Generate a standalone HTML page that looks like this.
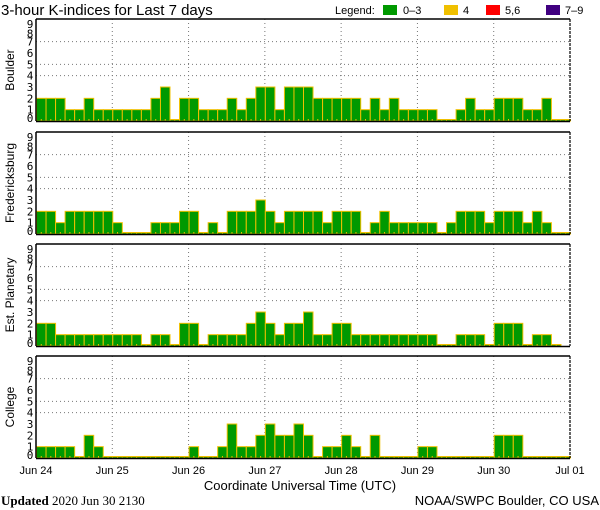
<!DOCTYPE html>
<html><head><meta charset="utf-8"><style>
body{margin:0;background:#fff;}
svg{display:block;font-family:"DejaVu Sans Mono","Liberation Mono",monospace;}
</style></head><body>
<svg id="chart" width="600" height="510" viewBox="0 0 600 510" xmlns="http://www.w3.org/2000/svg">
<text x="1" y="15" font-size="15" font-family="Liberation Sans, sans-serif">3-hour K-indices for Last 7 days</text>
<g font-size="11" font-family="Liberation Sans, sans-serif">
<text x="335" y="14">Legend:</text>
<rect x="383" y="5" width="14" height="10" fill="#009900"/>
<text x="403" y="14">0–3</text>
<rect x="444" y="5" width="14" height="10" fill="#f0c000"/>
<text x="463" y="14">4</text>
<rect x="486" y="5" width="14" height="10" fill="#ff0000"/>
<text x="505" y="14">5,6</text>
<rect x="546" y="5" width="14" height="10" fill="#400080"/>
<text x="565" y="14">7–9</text>
</g>
<g id="panels"></g>
<g font-size="11" font-family="Liberation Sans, sans-serif" id="xlabels"></g>
<text x="300" y="490" text-anchor="middle" font-size="13" font-family="Liberation Sans, sans-serif">Coordinate Universal Time (UTC)</text>
<text x="1" y="505" font-size="13" font-family="Liberation Serif, serif"><tspan font-weight="bold">Updated</tspan> 2020 Jun 30 2130</text>
<text x="599" y="505" text-anchor="end" font-size="13" font-family="Liberation Sans, sans-serif">NOAA/SWPC Boulder, CO USA</text>
</svg>
<script>
const stations = ["Boulder","Fredericksburg","Est. Planetary","College"];
const boulder = [2,2,2,1,1,2,1,1,1,1,1,1,2,3,0,2,2,1,1,1,2,1,2,3,3,1,3,3,3,2,2,2,2,2,1,2,1,2,1,1,1,1,0,0,1,2,1,1,2,2,2,1,1,2,0,0];
const fredericksburg = [2,2,1,2,2,2,2,2,1,0,0,0,1,1,1,2,2,0,1,0,2,2,2,3,2,1,2,2,2,2,1,2,2,2,0,1,2,1,1,1,1,1,0,1,2,2,2,1,2,2,2,1,2,1,0,0];
const planetary = [2,2,1,1,1,1,1,1,1,1,1,0,1,1,0,2,2,0,1,1,1,1,2,3,2,1,2,2,3,1,1,2,2,1,1,1,1,1,1,1,1,1,0,0,1,1,1,0,2,2,2,0,1,1,0,null];
const college = [1,1,1,1,0,2,1,0,0,0,0,0,0,0,0,0,1,0,0,1,3,1,1,2,3,2,2,3,2,0,1,1,2,1,0,2,0,0,0,0,1,1,0,0,0,0,0,0,2,2,2,0,0,0,0,0];
const seriesList = [boulder,fredericksburg,planetary,college];
const dayLabels = ["Jun 24","Jun 25","Jun 26","Jun 27","Jun 28","Jun 29","Jun 30","Jul 01"];
const yTicks = [0,1,2,3,4,5,6,7,8,9];

const NS="http://www.w3.org/2000/svg";
const X0=36, X1=570, N=56, PH=102, panelTops=[19,132,244,356];
const bw=(X1-X0)/N;
const xScale=i=>X0+i*bw;
function yScale(top,v){return top+PH-v*(PH/9);}
function mk(tag,attrs,parent){const e=document.createElementNS(NS,tag);for(const k in attrs)e.setAttribute(k,attrs[k]);parent.appendChild(e);return e;}
function color(v){return v>=7?"#400080":v>=5?"#ff0000":v>=4?"#f0c000":"#009900";}
const root=document.getElementById("panels");
stations.forEach((name,p)=>{
  const top=panelTops[p], data=seriesList[p];
  const g=mk("g",{},root);
  
  
  [4,5,7].forEach(v=>{
    const l=mk("line",{x1:X0,x2:X1,y1:yScale(top,v),y2:yScale(top,v),stroke:"#777","stroke-dasharray":"1,3"},g);
    
    
  });
  for(let d=1;d<7;d++){
    const x=xScale(d*8);
    const l=mk("line",{x1:x,x2:x,y1:top,y2:top+PH,stroke:"#777","stroke-dasharray":"1,3"},g);
    
    
  }
  data.forEach((v,i)=>{
    if(v===null)return;
    const y=yScale(top,v), h=Math.max(1.5,top+PH-y);
    const r=mk("rect",{x:xScale(i)+0.5,y:top+PH-h,width:bw,height:h,fill:color(v),stroke:"#f0c000","stroke-width":1},g);
    
    
    const t=mk("rect",{x:xScale(i)+bw/2,y:top+PH-2,width:1,height:2,fill:"#f0c000"},g);
    
    
  });
  const b1=mk("line",{x1:X0,x2:X1,y1:top,y2:top,stroke:"#000","stroke-width":1.5},g);
  
  
  const b2=mk("line",{x1:X0,x2:X1,y1:top+PH+0.5,y2:top+PH+0.5,stroke:"#000","stroke-width":1.5},g);
  
  
  const b3=mk("line",{x1:X0,x2:X0,y1:top,y2:top+PH,stroke:"#000","stroke-width":1.5},g);
  
  
  const b4=mk("line",{x1:X1,x2:X1,y1:top,y2:top+PH,stroke:"#000","stroke-width":1.2,"stroke-dasharray":"3,1"},g);
  
  
  yTicks.forEach(v=>{
    let y=yScale(top,v)+4;
    if(v===0)y-=3; if(v===9)y+=5; if(v===8)y+=3;
    const t=mk("text",{x:30,y:y,"text-anchor":"middle","font-size":11},g);
    t.textContent=v;
    
    
  });
  const lab=mk("text",{transform:`translate(14,${top+PH/2}) rotate(-90)`,"text-anchor":"middle","font-size":12,"font-family":"Liberation Sans, sans-serif"},g);
  lab.textContent=name;
  
  
});
const xl=document.getElementById("xlabels");
dayLabels.forEach((d,i)=>{
  const t=mk("text",{x:xScale(i*8),y:474,"text-anchor":"middle"},xl);
  t.textContent=d;
  
  
});
</script>
</body></html>
